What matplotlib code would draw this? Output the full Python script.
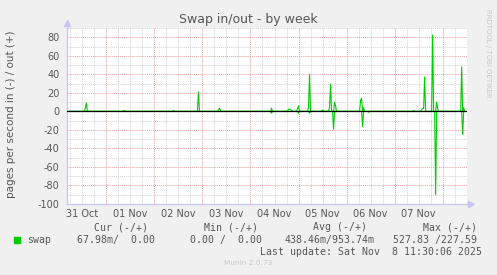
import pandas as pd
import matplotlib
matplotlib.use('Agg')
import matplotlib.pyplot as plt
import matplotlib.dates as mdates
from matplotlib.ticker import MultipleLocator, FuncFormatter, NullFormatter
from matplotlib.patches import Rectangle

plt.rcParams['axes.unicode_minus'] = False

# Sample grid of the week graph (30 min steps)
t_start = '2025-10-31 04:30'
t_end = '2025-11-08 11:30'
x_min = '2025-10-31 04:20'
x_max = '2025-11-08 11:55'

# Pages swapped out (+); zero elsewhere
out_times = ['2025-10-31 13:30', '2025-10-31 14:00', '2025-11-01 09:00', '2025-11-02 09:30',
             '2025-11-02 22:00', '2025-11-03 08:00', '2025-11-03 08:30', '2025-11-03 09:00',
             '2025-11-04 10:30', '2025-11-04 19:00', '2025-11-04 19:30', '2025-11-04 20:00',
             '2025-11-04 20:30', '2025-11-04 23:30', '2025-11-05 00:00', '2025-11-05 05:00',
             '2025-11-05 05:30', '2025-11-05 12:00', '2025-11-05 15:30', '2025-11-05 16:00',
             '2025-11-05 18:00', '2025-11-05 18:30', '2025-11-06 07:00', '2025-11-06 07:30',
             '2025-11-06 08:30', '2025-11-07 09:30', '2025-11-07 13:30', '2025-11-07 14:00',
             '2025-11-07 14:30', '2025-11-07 15:00', '2025-11-07 19:00', '2025-11-07 21:00',
             '2025-11-07 21:30', '2025-11-08 09:30', '2025-11-08 10:30']
out_vals = [4, 9, 1, 1,
            21, 1.5, 3.5, 1,
            3.5, 2.5, 2.5, 2,
            1, 3, 6, 5,
            40, 1.5, 5, 29.5,
            10, 6, 12, 14,
            4, 1, 2, 3,
            3, 37, 82.5, 10,
            3, 48, 4]

# Pages swapped in (-)
in_times = ['2025-11-04 10:30', '2025-11-05 00:00', '2025-11-05 05:30', '2025-11-05 17:30',
            '2025-11-06 08:00', '2025-11-06 11:00', '2025-11-07 20:30', '2025-11-08 10:00']
in_vals = [2, 2, 2, 19.5, 16.6, 1, 90, 25]

# Legend table text
col_heads = ['Cur (-/+)', 'Min (-/+)', 'Avg (-/+)', 'Max (-/+)']
col_vals = ['67.98m/  0.00', '0.00 /  0.00', '438.46m/953.74m', '527.83 /227.59']
col_x = [94.3, 204, 313.3, 423.3]
val_x = [77.3, 190.5, 285, 392.7]

t = pd.date_range(t_start, t_end, freq='30min')
swap_out = pd.Series(0.0, index=t)
swap_out.loc[pd.to_datetime(out_times)] = out_vals
swap_in = pd.Series(0.0, index=t)
swap_in.loc[pd.to_datetime(in_times)] = in_vals

W, H = 497, 275
txt = '#555555'
green = '#00CC00'
axis_col = '#C8C8EE'

fig = plt.figure(figsize=(W / 100, H / 100), dpi=100, facecolor='#F0F0F0')
ax = fig.add_axes([67 / W, 1 - 204 / H, 399.5 / W, 176 / H])
ax.set_facecolor('white')

ax.plot(t, swap_out, color=green, lw=0.8, zorder=2)
ax.plot(t, -swap_in, color=green, lw=0.8, zorder=2)
ax.axhline(0, color='black', lw=0.9, zorder=3)

ax.set_xlim(pd.Timestamp(x_min), pd.Timestamp(x_max))
ax.set_ylim(-100, 90)

# grid: days / 6 hours, 20 / 10
ax.xaxis.set_major_locator(mdates.DayLocator())
ax.xaxis.set_minor_locator(mdates.HourLocator(byhour=[6, 12, 18]))
ax.xaxis.set_major_formatter(NullFormatter())


def day_label(x, pos):
    d = mdates.num2date(x)
    return d.strftime('%d %b') if d.hour == 12 else ''


ax.xaxis.set_minor_formatter(FuncFormatter(day_label))
ax.yaxis.set_major_locator(MultipleLocator(20))
ax.yaxis.set_minor_locator(MultipleLocator(10))

ax.grid(which='major', color='#E8A0A0', ls=(0, (1, 1)), lw=0.7)
ax.grid(which='minor', color='#D2D2D2', ls=(0, (1, 1)), lw=0.7)
ax.set_axisbelow(True)

ax.tick_params(which='both', length=0, colors=txt, labelsize=7)
ax.tick_params(axis='y', pad=5.5)
ax.tick_params(axis='x', which='minor', pad=3.5)

for s in ['top', 'right']:
    ax.spines[s].set_visible(False)
for s in ['left', 'bottom']:
    ax.spines[s].set_color(axis_col)
    ax.spines[s].set_linewidth(1)

# axis arrows
ax.plot([0, 0], [1, 1.025], color=axis_col, lw=1, transform=ax.transAxes, clip_on=False)
ax.plot([0], [1.03], marker='^', ms=4, color=axis_col, transform=ax.transAxes, clip_on=False)
ax.plot([1, 1.008], [0, 0], color=axis_col, lw=1, transform=ax.transAxes, clip_on=False)
ax.plot([1.011], [0], marker='>', ms=4, color=axis_col, transform=ax.transAxes, clip_on=False)

fig.text(248 / W, 1 - 20 / H, 'Swap in/out - by week', ha='center', va='center',
         fontsize=9, color=txt)
fig.text(11 / W, 1 - 114.5 / H, 'pages per second in (-) / out (+)', rotation=90,
         ha='center', va='center', fontsize=7.5, color=txt)
fig.text(488 / W, 1 - 53 / H, 'RRDTOOL / TOBI OETIKER', rotation=270,
         ha='center', va='center', fontsize=5, color='#C8C8C8')

mono = 'DejaVu Sans Mono'
for head, x in zip(col_heads, col_x):
    fig.text(x / W, 1 - 227.3 / H, head, family=mono, fontsize=7.1, color=txt, va='center')
for val, x in zip(col_vals, val_x):
    fig.text(x / W, 1 - 240 / H, val, family=mono, fontsize=7.1, color=txt, va='center')
fig.patches.append(Rectangle((14 / W, 1 - 242.7 / H), 6 / W, 5.4 / H, color=green,
                             transform=fig.transFigure, figure=fig))
fig.text(26.7 / W, 1 - 240 / H, 'swap', family=mono, fontsize=7.1, color=txt, va='center')
fig.text(482.3 / W, 1 - 251.7 / H, 'Last update: Sat Nov  8 11:30:06 2025', family=mono,
         fontsize=7.1, color=txt, va='center', ha='right')
fig.text(248 / W, 1 - 263 / H, 'Munin 2.0.73', ha='center', va='center',
         fontsize=5.3, color='#C8C8C8')

fig.savefig('out.png', dpi=100, facecolor=fig.get_facecolor())
